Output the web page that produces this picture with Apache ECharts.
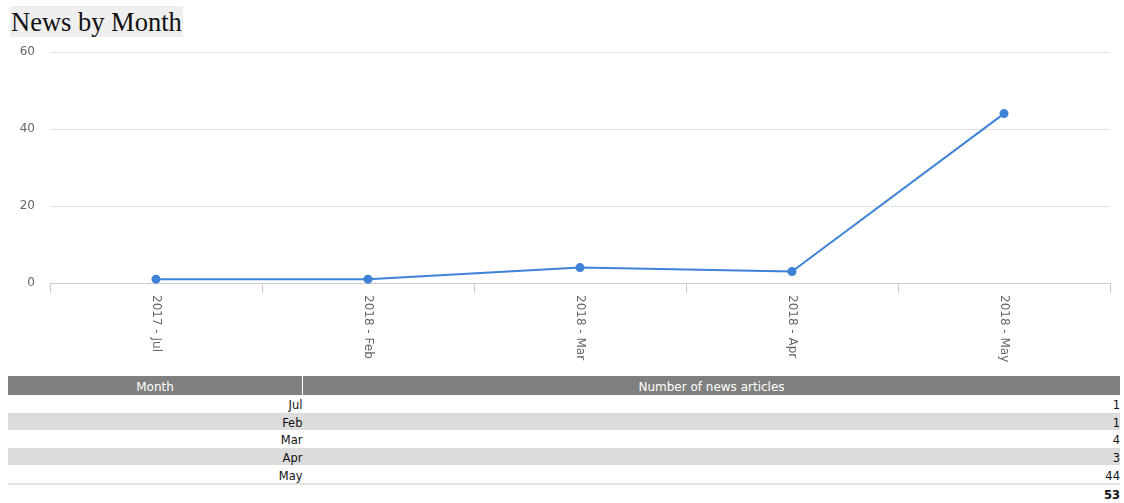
<!DOCTYPE html>
<html>
<head>
<meta charset="utf-8">
<script src="https://cdn.jsdelivr.net/npm/echarts@6/dist/echarts.min.js"></script>
<style>
  html, body { margin: 0; padding: 0; background: #fff; }
  #title { position: absolute; left: 10px; top: 6px; height: 31px; line-height: 32px; padding: 0 1px; background: #efefef; font-family: "Liberation Serif", "DejaVu Serif", serif; font-size: 26.5px; color: #111; }
  #chart { position: absolute; left: 0; top: 0; width: 1124px; height: 372px; }
  #tbl { position: absolute; left: 8px; top: 376px; width: 1112px; border-collapse: collapse; font-family: "DejaVu Sans", Verdana, sans-serif; font-size: 11.5px; color: #111; }
  #tbl th { background: #808080; color: #fff; font-weight: normal; height: 19px; padding: 0; border-left: 1px solid #fff; font-size: 12px; line-height: 19px; }
  #tbl th:first-child { border-left: none; width: 294px; }
  #tbl td { height: 17.6px; padding: 0; text-align: right; line-height: 17px; }
  #tbl td span, #tbl th span { position: relative; top: 2px; }
  #tbl tr.alt td { background: #dcdcdc; }
  #tbl tr.total td { font-weight: bold; border-top: 2px solid #e4e4e4; }
  #tbl tr.last td { border-bottom: 1px solid #e4e4e4; }
</style>
</head>
<body>
<div id="chart"></div>
<div id="title">News by Month</div>
<table id="tbl"></table>
<script>
const categories = ['2017 - Jul', '2018 - Feb', '2018 - Mar', '2018 - Apr', '2018 - May'];
const monthNames = ['Jul', 'Feb', 'Mar', 'Apr', 'May'];
const values = [1, 1, 4, 3, 44];
const yTicks = [0, 20, 40, 60];
const tableHeaders = ['Month', 'Number of news articles'];

const chart = echarts.init(document.getElementById('chart'));
chart.setOption({
  animation: false,
  grid: { left: 50, right: 14, top: 52, bottom: 372 - 283 },
  xAxis: {
    type: 'category',
    data: categories,
    boundaryGap: true,
    axisLine: { lineStyle: { color: '#cccccc' } },
    axisTick: { show: true, length: 10, lineStyle: { color: '#cccccc' } },
    axisLabel: { rotate: -90, color: '#666', fontSize: 12, margin: 12, fontFamily: 'DejaVu Sans, sans-serif' }
  },
  yAxis: {
    type: 'value',
    min: yTicks[0],
    max: yTicks[yTicks.length - 1],
    interval: 20,
    axisLine: { show: false },
    axisTick: { show: false },
    splitLine: { lineStyle: { color: '#e2e2e2' } },
    axisLabel: { color: '#666', fontSize: 12, margin: 15, fontFamily: 'DejaVu Sans, sans-serif' }
  },
  series: [{
    type: 'line',
    data: values,
    symbol: 'circle',
    symbolSize: 9,
    lineStyle: { color: '#3d82d6', width: 2 },
    itemStyle: { color: '#3d82d6' }
  }]
});

const tbl = document.getElementById('tbl');
let html = '<tr>' + tableHeaders.map(h => '<th><span>' + h + '</span></th>').join('') + '</tr>';
monthNames.forEach((m, i) => {
  const cls = (i % 2 === 1 ? 'alt' : '') + (i === monthNames.length - 1 ? ' last' : '');
  html += '<tr class="' + cls + '"><td><span>' + m + '</span></td><td><span>' + values[i] + '</span></td></tr>';
});
const total = values.reduce((a, b) => a + b, 0);
html += '<tr class="total"><td></td><td><span>' + total + '</span></td></tr>';
tbl.innerHTML = html;
</script>
</body>
</html>
